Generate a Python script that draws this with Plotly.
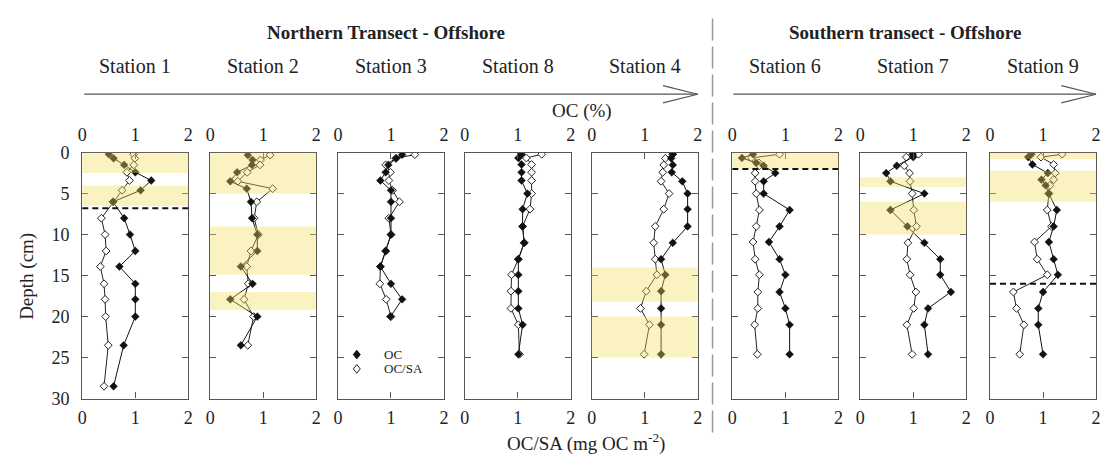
import plotly.graph_objects as go

# ---------------- data ----------------
STATIONS = ["Station 1", "Station 2", "Station 3", "Station 8",
            "Station 4", "Station 6", "Station 7", "Station 9"]

S1_DEPTH = [0.2, 0.7, 1.5, 2.4, 3.4, 4.6, 6.0, 8.0, 10.0, 12.0, 13.9, 16.0, 17.9, 20.0, 23.5, 28.5]
S1_OC    = [0.5, 0.59, 0.79, 1.0, 1.3, 1.1, 0.58, 0.79, 0.9, 1.0, 0.7, 1.0, 1.0, 1.0, 0.78, 0.59]
S1_OCSA  = [0.97, 0.99, 0.97, 0.84, 0.89, 0.75, 0.58, 0.36, 0.43, 0.45, 0.34, 0.41, 0.43, 0.44, 0.49, 0.41]

S2_DEPTH = [0.3, 0.9, 1.5, 2.4, 3.5, 4.4, 6.0, 8.0, 10.0, 12.0, 13.9, 16.0, 17.9, 20.0, 23.5]
S2_OC    = [0.71, 0.8, 0.79, 0.51, 0.38, 0.69, 0.77, 0.79, 0.89, 0.89, 0.58, 0.8, 0.38, 0.89, 0.58]
S2_OCSA  = [1.13, 0.95, 0.94, 0.7, 0.52, 1.18, 0.88, 0.83, 0.91, 0.77, 0.69, 0.72, 0.64, 0.82, 0.71]

S3_DEPTH = [0.25, 0.7, 1.5, 2.4, 3.4, 4.6, 6.0, 8.0, 10.0, 12.0, 13.9, 16.0, 17.9, 20.0]
S3_OC    = [1.21, 1.1, 0.95, 0.9, 0.8, 1.0, 1.0, 1.0, 1.0, 0.9, 0.8, 1.0, 1.21, 0.99]
S3_OCSA  = [1.45, 1.09, 0.9, 0.99, 0.96, 1.03, 1.16, 0.96, 1.0, 0.9, 0.8, 0.79, 0.91, 1.0]

S8_DEPTH = [0.2, 0.66, 1.45, 2.4, 3.4, 5.0, 6.9, 9.0, 11.0, 13.0, 14.9, 16.9, 19.0, 21.0, 24.6]
S8_OC    = [1.07, 1.01, 1.07, 1.07, 1.07, 1.18, 1.09, 1.09, 1.12, 1.01, 1.01, 1.01, 1.01, 1.09, 1.01]
S8_OCSA  = [1.45, 1.16, 1.26, 1.26, 1.26, 1.26, 1.23, 1.09, 1.12, 1.01, 0.88, 0.87, 0.87, 1.01, 1.03]

S4_DEPTH = [0.2, 0.7, 1.5, 2.4, 3.5, 5.0, 6.9, 9.0, 11.0, 13.0, 14.9, 16.9, 19.0, 21.0, 24.6]
S4_OC    = [1.53, 1.5, 1.53, 1.51, 1.71, 1.81, 1.81, 1.81, 1.53, 1.31, 1.39, 1.31, 1.31, 1.31, 1.31]
S4_OCSA  = [1.53, 1.39, 1.36, 1.34, 1.31, 1.46, 1.36, 1.2, 1.17, 1.2, 1.23, 1.03, 0.92, 1.09, 0.99]

S6_DEPTH = [0.2, 0.65, 1.25, 1.6, 2.5, 3.5, 5.0, 7.0, 9.0, 10.9, 13.0, 14.9, 17.0, 19.0, 21.0, 24.6]
S6_OC    = [0.39, 0.18, 0.45, 0.59, 0.81, 0.59, 0.59, 1.08, 0.89, 0.69, 0.89, 1.0, 0.89, 1.0, 1.08, 1.08]
S6_OCSA  = [0.89, 0.36, 0.5, 0.51, 0.43, 0.43, 0.45, 0.51, 0.45, 0.39, 0.43, 0.51, 0.48, 0.48, 0.42, 0.47]

S7_DEPTH = [0.2, 0.55, 1.6, 2.5, 3.5, 5.0, 7.0, 9.0, 11.0, 13.0, 14.9, 17.0, 19.0, 21.0, 24.6]
S7_OC    = [0.99, 1.0, 0.69, 0.49, 0.57, 1.21, 0.57, 0.89, 1.21, 1.51, 1.51, 1.71, 1.28, 1.21, 1.28]
S7_OCSA  = [1.1, 0.87, 0.83, 0.93, 0.94, 0.98, 1.01, 1.06, 0.9, 0.88, 0.94, 1.05, 1.01, 0.88, 0.98]

S9_DEPTH = [0.2, 0.55, 1.45, 2.5, 3.3, 4.0, 5.0, 7.0, 9.0, 10.9, 13.0, 14.9, 17.0, 19.0, 21.0, 24.6]
S9_OC    = [0.78, 0.72, 0.8, 1.09, 0.97, 1.05, 1.11, 1.26, 1.2, 1.11, 1.2, 1.28, 1.0, 0.91, 0.91, 1.0]
S9_OCSA  = [1.36, 0.96, 1.2, 1.23, 1.2, 1.13, 1.11, 1.08, 1.16, 0.84, 0.89, 1.08, 0.44, 0.5, 0.64, 0.56]

# shaded depth intervals (cm) and dashed-line depths per station
S1_BANDS = [(0, 2.5), (4, 6.5)]
S2_BANDS = [(0, 5), (9, 14.9), (17, 19.2)]
S3_BANDS = []
S8_BANDS = []
S4_BANDS = [(14, 18.2), (20, 25)]
S6_BANDS = [(0, 2)]
S7_BANDS = [(3, 4.2), (6, 10)]
S9_BANDS = [(0, 0.8), (2.2, 6)]

DASHED = {0: 6.8, 5: 2.0, 7: 16.0}

X_TICKS = [0, 1, 2]
Y_TICKS = [0, 5, 10, 15, 20, 25, 30]

DEPTHS = [S1_DEPTH, S2_DEPTH, S3_DEPTH, S8_DEPTH, S4_DEPTH, S6_DEPTH, S7_DEPTH, S9_DEPTH]
OCS = [S1_OC, S2_OC, S3_OC, S8_OC, S4_OC, S6_OC, S7_OC, S9_OC]
OCSAS = [S1_OCSA, S2_OCSA, S3_OCSA, S8_OCSA, S4_OCSA, S6_OCSA, S7_OCSA, S9_OCSA]
BANDS = [S1_BANDS, S2_BANDS, S3_BANDS, S8_BANDS, S4_BANDS, S6_BANDS, S7_BANDS, S9_BANDS]

# ---------------- layout geometry (pixels) ----------------
W, H = 1107, 466
LEFTS = [78, 207, 336, 464, 592, 734, 863, 994]
PW = 107
TOP, BOT = 149, 406

FONT = "Liberation Serif, Times New Roman, serif"
AXC = "#555555"
TXT = "#222222"


def px(x):
    return x / W


def py(y):
    return 1 - y / H


fig = go.Figure()
layout = dict(
    width=W, height=H, margin=dict(l=0, r=0, t=0, b=0, pad=0),
    paper_bgcolor="white", plot_bgcolor="white",
    showlegend=False,
    font=dict(family=FONT, size=18, color=TXT),
)

ydom = [py(BOT), py(TOP)]
shapes = []
annotations = []


def note(text, x, y, size=19, **kw):
    d = dict(text=text, x=px(x), y=py(y), xref="paper", yref="paper", showarrow=False,
             xanchor="center", yanchor="middle", font=dict(family=FONT, size=size, color=TXT))
    d.update(kw)
    annotations.append(d)


for i in range(8):
    n = i + 1
    xb = "x" if n == 1 else f"x{n}"
    xt = f"x{n + 8}"
    yy = "y" if n == 1 else f"y{n}"
    xdom = [px(LEFTS[i]), px(LEFTS[i] + PW)]
    common_x = dict(range=[0, 2], tickvals=X_TICKS, ticks="inside", ticklen=6,
                    tickcolor=AXC, showline=True, linecolor=AXC, linewidth=1.2,
                    showgrid=False, zeroline=False, fixedrange=True,
                    tickfont=dict(family=FONT, size=18, color=TXT),
                    ticklabelstandoff=3)
    layout[f"xaxis{n}"] = dict(domain=xdom, anchor=yy, side="bottom", **common_x)
    layout[f"xaxis{n + 8}"] = dict(overlaying=xb, anchor=yy, side="top", **common_x)
    layout[f"yaxis{n}"] = dict(domain=ydom, anchor=xb, range=[30, 0], tickvals=Y_TICKS,
                               ticks="inside", ticklen=6, tickcolor=AXC, showline=True,
                               linecolor=AXC, linewidth=1.2, mirror="ticks",
                               showgrid=False, zeroline=False, fixedrange=True,
                               showticklabels=(n == 1), ticklabelstandoff=8,
                               tickfont=dict(family=FONT, size=18, color=TXT))

    # OC/SA (open diamonds) on bottom axis
    fig.add_trace(go.Scatter(
        x=OCSAS[i], y=DEPTHS[i], xaxis=xb, yaxis=yy, mode="lines+markers",
        line=dict(color="#222", width=1),
        marker=dict(symbol="diamond", size=6, color="white", line=dict(color="#222", width=1)),
        name="OC/SA", hoverinfo="skip"))
    # OC (filled diamonds) on top axis
    fig.add_trace(go.Scatter(
        x=OCS[i], y=DEPTHS[i], xaxis=xt, yaxis=yy, mode="lines+markers",
        line=dict(color="#111", width=1),
        marker=dict(symbol="diamond", size=6, color="#111", line=dict(color="#111", width=0.5)),
        name="OC", hoverinfo="skip"))

    xd = f"{xb} domain"
    for (a, b) in BANDS[i]:
        shapes.append(dict(type="rect", xref=xd, yref=yy, x0=0, x1=1, y0=a, y1=b,
                           fillcolor="rgba(242,222,90,0.38)", line=dict(width=0), layer="above"))
    if i in DASHED:
        shapes.append(dict(type="line", xref=xd, yref=yy, x0=0, x1=1, y0=DASHED[i], y1=DASHED[i],
                           line=dict(color="#111", width=2, dash="6px,4px"), layer="above"))

    note(STATIONS[i], LEFTS[i] + PW / 2, 59, size=20)

# headers and axis titles
note("<b>Northern Transect - Offshore</b>", 384, 23)
note("<b>Southern transect - Offshore</b>", 908, 23)
note("OC (%)", 582, 106)
note("OC/SA (mg OC m<sup>-2</sup>)", 586, 452)
note("Depth (cm)", 22, 278, textangle=-90)

# legend (in Station 3 panel)
LEG_Y = [360, 375]
note("OC", 380, LEG_Y[0], size=13, xanchor="left")
note("OC/SA", 380, LEG_Y[1], size=13, xanchor="left")


def diamond(cx, cy, hw=3.5, hh=4.5):
    return (f"M {px(cx - hw)},{py(cy)} L {px(cx)},{py(cy - hh)} L {px(cx + hw)},{py(cy)} "
            f"L {px(cx)},{py(cy + hh)} Z")


shapes.append(dict(type="path", xref="paper", yref="paper", path=diamond(355, LEG_Y[0]),
                   fillcolor="#111", line=dict(color="#111", width=1)))
shapes.append(dict(type="path", xref="paper", yref="paper", path=diamond(355, LEG_Y[1]),
                   fillcolor="white", line=dict(color="#222", width=1)))

# arrows
AR = "#555555"
for (x0, x1) in [(80, 699), (735, 1101)]:
    shapes.append(dict(type="line", xref="paper", yref="paper", x0=px(x0), x1=px(x1),
                       y0=py(88), y1=py(88), line=dict(color=AR, width=1.2)))
    shapes.append(dict(type="line", xref="paper", yref="paper", x0=px(x1 - 35), x1=px(x1),
                       y0=py(79), y1=py(88), line=dict(color=AR, width=1.2)))
    shapes.append(dict(type="line", xref="paper", yref="paper", x0=px(x1 - 35), x1=px(x1),
                       y0=py(97), y1=py(88), line=dict(color=AR, width=1.2)))

# vertical divider
shapes.append(dict(type="line", xref="paper", yref="paper", x0=px(714), x1=px(714),
                   y0=py(9), y1=py(445), line=dict(color="#999999", width=1.5, dash="22px,6px")))

layout["shapes"] = shapes
layout["annotations"] = annotations
fig.update_layout(**layout)

# remove the default page margin so the figure fills the window exactly
fig.write_html("out.html",
               config={"displayModeBar": False},
               post_script="document.body.style.margin='0';document.body.style.overflow='hidden';")
